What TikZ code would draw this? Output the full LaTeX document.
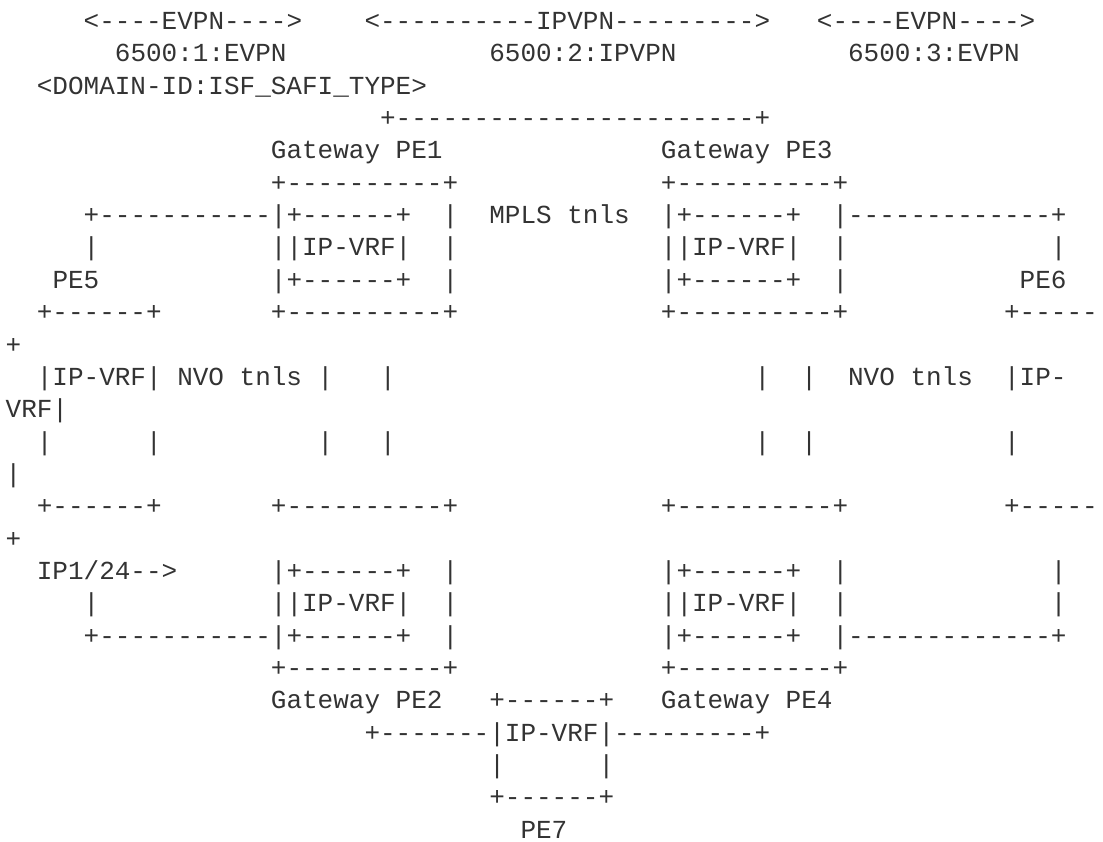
\documentclass[tikz,border=0pt]{standalone}
\usepackage{fontspec}
\setmonofont{Liberation Mono}
\definecolor{ink}{HTML}{333333}
\tikzset{ascii/.style={anchor=base west, inner sep=0pt, text=ink,
    font=\ttfamily\fontsize{26pt}{32pt}\selectfont}}

\begin{document}
\begin{tikzpicture}[x=15.6pt, y=-32.35pt]
    \useasboundingbox (-5.5pt,29.5pt) rectangle (1097.5pt,-812.5pt);
    \fill[white] (-5.5pt,29.5pt) rectangle (1097.5pt,-812.5pt);
    \clip (-5.5pt,29.5pt) rectangle (1097.5pt,-812.5pt);

    % Domains
    \node[ascii] (evpn-1) at (5,0) {<----EVPN---->};
    \node[ascii] (ipvpn) at (23,0) {<----------IPVPN--------->};
    \node[ascii] (evpn-2) at (52,0) {<----EVPN---->};
    \node[ascii] (rd-1) at (7,1) {6500:1:EVPN};
    \node[ascii] (rd-2) at (31,1) {6500:2:IPVPN};
    \node[ascii] (rd-3) at (54,1) {6500:3:EVPN};
    \node[ascii] (legend) at (2,2) {<DOMAIN-ID:ISF\_SAFI\_TYPE>};

    % Gateway PE1 and PE3
    \node[ascii] (top-link) at (24,3) {+-----------------------+};
    \node[ascii] (gw-1) at (17,4) {Gateway PE1};
    \node[ascii] (gw-3) at (42,4) {Gateway PE3};
    \node[ascii] (r5-1) at (17,5) {+----------+};
    \node[ascii] (r5-2) at (42,5) {+----------+};
    \node[ascii] (r6-1) at (5,6) {+-----------|+------+};
    \node[ascii] (r6-2) at (28,6) {|};
    \node[ascii] (mpls) at (31,6) {MPLS tnls};
    \node[ascii] (r6-3) at (42,6) {|+------+};
    \node[ascii] (r6-4) at (53,6) {|-------------+};
    \node[ascii] (r7-1) at (5,7) {|};
    \node[ascii] (vrf-1) at (17,7) {||IP-VRF|};
    \node[ascii] (r7-2) at (28,7) {|};
    \node[ascii] (vrf-3) at (42,7) {||IP-VRF|};
    \node[ascii] (r7-3) at (53,7) {|};
    \node[ascii] (r7-4) at (67,7) {|};
    \node[ascii] (pe-5) at (3,8) {PE5};
    \node[ascii] (r8-1) at (17,8) {|+------+};
    \node[ascii] (r8-2) at (28,8) {|};
    \node[ascii] (r8-3) at (42,8) {|+------+};
    \node[ascii] (r8-4) at (53,8) {|};
    \node[ascii] (pe-6) at (65,8) {PE6};
    \node[ascii] (r9-1) at (2,9) {+------+};
    \node[ascii] (r9-2) at (17,9) {+----------+};
    \node[ascii] (r9-3) at (42,9) {+----------+};
    \node[ascii] (r9-4) at (64,9) {+-----};
    \node[ascii] (r10-1) at (0,10) {+};

    % PE5 and PE6 with NVO tunnels
    \node[ascii] (nvo-1) at (2,11) {|IP-VRF| NVO tnls};
    \node[ascii] (r11-1) at (20,11) {|};
    \node[ascii] (r11-2) at (24,11) {|};
    \node[ascii] (r11-3) at (48,11) {|};
    \node[ascii] (r11-4) at (51,11) {|};
    \node[ascii] (nvo-2) at (54,11) {NVO tnls};
    \node[ascii] (vrf-6) at (64,11) {|IP-};
    \node[ascii] (r12-1) at (0,12) {VRF|};
    \node[ascii] (r13-1) at (2,13) {|};
    \node[ascii] (r13-2) at (9,13) {|};
    \node[ascii] (r13-3) at (20,13) {|};
    \node[ascii] (r13-4) at (24,13) {|};
    \node[ascii] (r13-5) at (48,13) {|};
    \node[ascii] (r13-6) at (51,13) {|};
    \node[ascii] (r13-7) at (64,13) {|};
    \node[ascii] (r14-1) at (0,14) {|};
    \node[ascii] (r15-1) at (2,15) {+------+};
    \node[ascii] (r15-2) at (17,15) {+----------+};
    \node[ascii] (r15-3) at (42,15) {+----------+};
    \node[ascii] (r15-4) at (64,15) {+-----};
    \node[ascii] (r16-1) at (0,16) {+};

    % Gateway PE2 and PE4
    \node[ascii] (prefix) at (2,17) {IP1/24-->};
    \node[ascii] (r17-1) at (17,17) {|+------+};
    \node[ascii] (r17-2) at (28,17) {|};
    \node[ascii] (r17-3) at (42,17) {|+------+};
    \node[ascii] (r17-4) at (53,17) {|};
    \node[ascii] (r17-5) at (67,17) {|};
    \node[ascii] (r18-1) at (5,18) {|};
    \node[ascii] (vrf-2) at (17,18) {||IP-VRF|};
    \node[ascii] (r18-2) at (28,18) {|};
    \node[ascii] (vrf-4) at (42,18) {||IP-VRF|};
    \node[ascii] (r18-3) at (53,18) {|};
    \node[ascii] (r18-4) at (67,18) {|};
    \node[ascii] (r19-1) at (5,19) {+-----------|+------+};
    \node[ascii] (r19-2) at (28,19) {|};
    \node[ascii] (r19-3) at (42,19) {|+------+};
    \node[ascii] (r19-4) at (53,19) {|-------------+};
    \node[ascii] (r20-1) at (17,20) {+----------+};
    \node[ascii] (r20-2) at (42,20) {+----------+};
    \node[ascii] (gw-2) at (17,21) {Gateway PE2};
    \node[ascii] (r21-1) at (31,21) {+------+};
    \node[ascii] (gw-4) at (42,21) {Gateway PE4};

    % PE7
    \node[ascii] (vrf-7) at (23,22) {+-------|IP-VRF|---------+};
    \node[ascii] (r23-1) at (31,23) {|};
    \node[ascii] (r23-2) at (38,23) {|};
    \node[ascii] (r24-1) at (31,24) {+------+};
    \node[ascii] (pe-7) at (33,25) {PE7};
\end{tikzpicture}
\end{document}
